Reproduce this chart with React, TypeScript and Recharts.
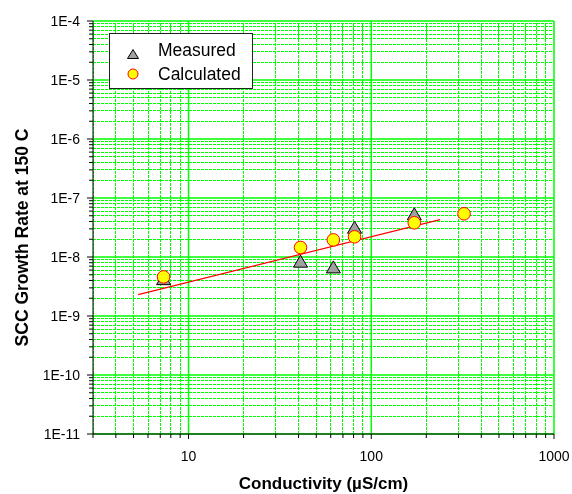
import { ComposedChart, ReferenceLine, Scatter, XAxis, YAxis } from "recharts";

const FONT = "'Liberation Sans', Arial, Helvetica, sans-serif";
const GREEN = "#00ff00";

// data (log-log)
const measuredX = [7.3, 41, 62, 81, 172];
const measuredY = [4.3e-9, 8.5e-9, 6.8e-9, 3.2e-8, 5.4e-8];
const calculatedX = [7.3, 41, 62, 81, 172, 322];
const calculatedY = [4.6e-9, 1.45e-8, 1.95e-8, 2.2e-8, 3.8e-8, 5.4e-8];
const fitX = [5.3, 238];
const fitY = [2.3e-9, 4.3e-8];

// axes
const xDomain = [3, 1000];
const yDomain = [1e-11, 1e-4];
const xMajorTicks = [10, 100, 1000];
const xDecadeStarts = [1, 10, 100];
const yMajorExps = [-11, -10, -9, -8, -7, -6, -5, -4];
const minorSteps = [2, 3, 4, 5, 6, 7, 8, 9];

const xMinorTicks = xDecadeStarts
  .flatMap((d) => minorSteps.map((m) => m * d))
  .filter((v) => v >= xDomain[0] && v <= xDomain[1]);
const yMajorTicks = yMajorExps.map((e) => Number(`1e${e}`));
const yMinorTicks = yMajorExps.slice(0, -1).flatMap((e) => minorSteps.map((m) => Number(`${m}e${e}`)));
const xTicks = [...xMinorTicks, ...xMajorTicks].sort((a, b) => a - b);
const yTicks = [...yMinorTicks, ...yMajorTicks].sort((a, b) => a - b);

const measured = measuredX.map((x, i) => ({ x, y: measuredY[i] }));
const calculated = calculatedX.map((x, i) => ({ x, y: calculatedY[i] }));

const isMajor = (v: number) => {
  const l = Math.log10(v);
  return Math.abs(l - Math.round(l)) < 1e-9;
};

function LogTick(props: any) {
  const { x, y, payload, side } = props;
  const v = payload.value as number;
  const major = isMajor(v);
  if (side === "left") {
    const ax = x + 13;
    return (
      <g>
        <line x1={ax - (major ? 6 : 4)} x2={ax} y1={y} y2={y} stroke="#000" />
        {major && (
          <text x={x} y={y} dy="0.35em" textAnchor="end" fontSize={14} fontFamily={FONT} fill="#000">
            {`1E${Math.round(Math.log10(v))}`}
          </text>
        )}
      </g>
    );
  }
  if (side === "bottom") {
    const ay = y - 17;
    return (
      <g>
        <line x1={x} x2={x} y1={ay} y2={ay + (major ? 5 : 4)} stroke="#000" />
        {major && (
          <text x={x} y={y} dy="0.71em" textAnchor="middle" fontSize={14} fontFamily={FONT} fill="#000">
            {v}
          </text>
        )}
      </g>
    );
  }
  if (side === "top") {
    const ay = y - 6;
    return <line x1={x} x2={x} y1={ay} y2={ay + (major ? 5 : 4)} stroke="#000" />;
  }
  const ax = x + 6;
  return <line x1={ax - (major ? 6 : 3)} x2={ax} y1={y} y2={y} stroke="#000" />;
}

function Triangle(props: any) {
  const { cx, cy } = props;
  if (cx == null || cy == null) return null;
  return (
    <path d={`M${cx},${cy - 6}L${cx + 7},${cy + 6}L${cx - 7},${cy + 6}Z`} fill="#a0a0a0" stroke="#000" strokeWidth={1} />
  );
}

function Dot(props: any) {
  const { cx, cy } = props;
  if (cx == null || cy == null) return null;
  return <circle cx={cx} cy={cy} r={6.3} fill="#ffff00" stroke="#ff0000" strokeWidth={1} />;
}

function XTitle(props: any) {
  const vb = props.viewBox;
  return (
    <text
      x={vb.x + vb.width / 2}
      y={vb.y + vb.height - 5}
      textAnchor="middle"
      fontSize={17}
      fontWeight="bold"
      fontFamily={FONT}
      fill="#000"
    >
      Conductivity (µS/cm)
    </text>
  );
}

function YTitle(props: any) {
  const vb = props.viewBox;
  const cx = vb.x + 22;
  const cy = vb.y + vb.height / 2 + 10;
  return (
    <text
      x={cx}
      y={cy}
      dy="0.35em"
      transform={`rotate(-90, ${cx}, ${cy})`}
      textAnchor="middle"
      fontSize={17.5}
      fontWeight="bold"
      fontFamily={FONT}
      fill="#000"
    >
      SCC Growth Rate at 150 C
    </text>
  );
}

function LegendBox() {
  const row = { display: "flex", alignItems: "center", height: 24 } as const;
  return (
    <div
      style={{
        position: "absolute",
        left: 109,
        top: 33,
        width: 142,
        height: 50,
        border: "1px solid #222",
        background: "#fff",
        paddingTop: 4,
        boxSizing: "content-box",
        fontFamily: FONT,
        fontSize: 17.5,
        color: "#000",
      }}
    >
      <div style={row}>
        <svg width={48} height={24}>
          <path d="M23,11.5L28.5,20.5L17.5,20.5Z" fill="#a0a0a0" stroke="#000" />
        </svg>
        <span>Measured</span>
      </div>
      <div style={row}>
        <svg width={48} height={24}>
          <circle cx={23} cy={12} r={5} fill="#ffff00" stroke="#ff0000" />
        </svg>
        <span>Calculated</span>
      </div>
    </div>
  );
}

export default function App() {
  return (
    <div style={{ position: "fixed", left: 0, top: 0, width: 572, height: 494 }}>
      <ComposedChart width={572} height={494} margin={{ top: 21, right: 18, left: 0, bottom: 0 }}>
        {yMinorTicks.map((v) => (
          <ReferenceLine key={`ym${v}`} y={v} stroke={GREEN} strokeDasharray="3 1" shapeRendering="crispEdges" />
        ))}
        {xMinorTicks.map((v) => (
          <ReferenceLine key={`xm${v}`} x={v} stroke={GREEN} strokeDasharray="3 1" shapeRendering="crispEdges" />
        ))}
        {yMajorTicks.map((v) => (
          <ReferenceLine key={`yM${v}`} y={v} stroke={GREEN} strokeWidth={1.5} />
        ))}
        {xMajorTicks.map((v) => (
          <ReferenceLine key={`xM${v}`} x={v} stroke={GREEN} strokeWidth={1.5} />
        ))}
        <XAxis
          dataKey="x"
          type="number"
          scale="log"
          domain={xDomain}
          allowDataOverflow
          ticks={xTicks}
          interval={0}
          height={60}
          tickSize={5}
          tickMargin={12}
          tickLine={false}
          axisLine={{ stroke: "#000" }}
          tick={(p: any) => <LogTick {...p} side="bottom" />}
          label={{ content: XTitle }}
        />
        <XAxis
          xAxisId="top"
          orientation="top"
          mirror
          type="number"
          scale="log"
          domain={xDomain}
          allowDataOverflow
          ticks={xTicks}
          interval={0}
          height={0}
          tickSize={6}
          tickMargin={0}
          tickLine={false}
          axisLine={{ stroke: "#000" }}
          tick={(p: any) => <LogTick {...p} side="top" />}
        />
        <YAxis
          dataKey="y"
          type="number"
          scale="log"
          domain={yDomain}
          allowDataOverflow
          ticks={yTicks}
          interval={0}
          width={93}
          tickSize={6}
          tickMargin={7}
          tickLine={false}
          axisLine={{ stroke: "#000" }}
          tick={(p: any) => <LogTick {...p} side="left" />}
          label={{ content: YTitle }}
        />
        <YAxis
          yAxisId="right"
          orientation="right"
          mirror
          type="number"
          scale="log"
          domain={yDomain}
          allowDataOverflow
          ticks={yTicks}
          interval={0}
          width={0}
          tickSize={6}
          tickMargin={0}
          tickLine={false}
          axisLine={{ stroke: "#000" }}
          tick={(p: any) => <LogTick {...p} side="right" />}
        />
        <ReferenceLine
          segment={[
            { x: fitX[0], y: fitY[0] },
            { x: fitX[1], y: fitY[1] },
          ]}
          stroke="#ff0000"
          strokeWidth={1.2}
        />
        <Scatter name="Measured" data={measured} shape={Triangle} isAnimationActive={false} />
        <Scatter name="Calculated" data={calculated} shape={Dot} isAnimationActive={false} />
      </ComposedChart>
      <LegendBox />
    </div>
  );
}
